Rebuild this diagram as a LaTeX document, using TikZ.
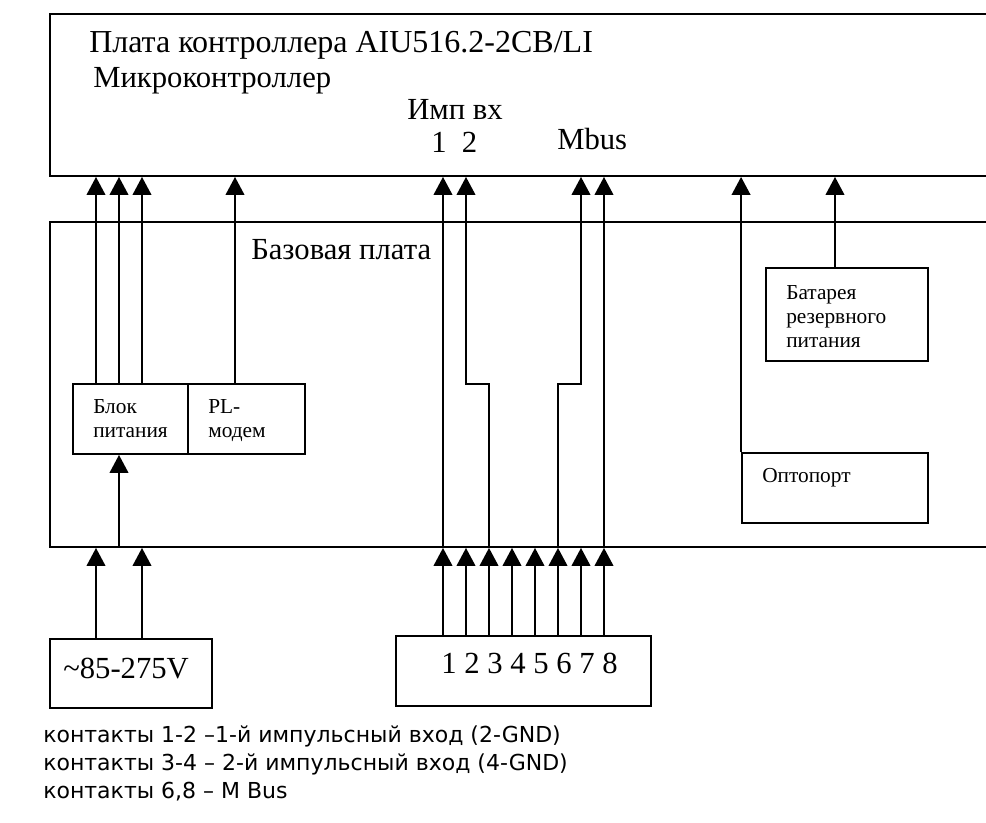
\documentclass[tikz,border=0pt]{standalone}
\usepackage{fontspec}
\setmainfont{Liberation Serif}
\newfontfamily\notefont{DejaVu Sans}
\usepackage{tikz}
\usetikzlibrary{arrows.meta,positioning}

\begin{document}
\begin{tikzpicture}[x=0.75pt, y=-0.75pt,
      box/.style={draw, line width=1.4pt, inner sep=0pt},
      big/.style={anchor=base west, inner sep=0pt, font=\fontsize{23}{27}\selectfont},
      small/.style={anchor=north west, inner sep=0pt, align=left, font=\fontsize{16}{18}\selectfont},
      note/.style={anchor=north west, inner sep=0pt, align=left, font=\notefont\fontsize{16.5}{21}\selectfont},
      arr/.style={-{Triangle[length=13.5pt, width=14pt]}, line width=1.4pt}
    ]
      \useasboundingbox (0,0) rectangle (986,823);
      \clip (0,0) rectangle (986,823);
      \node[box, minimum width=712.5pt, minimum height=121.5pt] (ctrl) at (525,95) {};
      \node[box, minimum width=712.5pt, minimum height=243.75pt] (base) at (525,384.5) {};
      \node[box, minimum width=86.25pt, minimum height=52.5pt] (psu) at (130.5,419) {};
      \node[box, minimum width=87.75pt, minimum height=52.5pt] (plm) at (246.5,419) {};
      \node[box, minimum width=121.5pt, minimum height=69.75pt] (bat) at (847,314.5) {};
      \node[box, minimum width=139.5pt, minimum height=52.5pt] (opto) at (835,488) {};
      \node[box, minimum width=121.5pt, minimum height=51.75pt] (mains) at (131,673.5) {};
      \node[box, minimum width=191.25pt, minimum height=52.5pt] (conn) at (523.5,671) {};

      \node[big, font=\fontsize{24}{28}\selectfont] (title) at (89,53) {Плата контроллера AIU516.2-2CB/LI};
      \node[big] (mcu) at (93,88) {Микроконтроллер};
      \node[big] (imp) at (407,120) {Имп вх};
      \node[big] (impnum) at (431,153) {1~~2};
      \node[big] (mbus) at (557,150) {Mbus};
      \node[big] (basetxt) at (251,260) {Базовая плата};
      \node[small] (psutxt) at (93,399) {Блок\\питания};
      \node[small] (plmtxt) at (208,399) {PL-\\модем};
      \node[small] (battxt) at (786,285) {Батарея\\резервного\\питания};
      \node[small, anchor=base west] (optotxt) at (762,483) {Оптопорт};
      \node[big] (mainstxt) at (63,678) {\textasciitilde85-275V};
      \node[big] (conntxt) at (441,673) {1 2 3 4 5 6 7 8};

      \foreach \x in {96,119,142}
        \draw[arr] (psu.north -| \x,0) -- (ctrl.south -| \x,0);
      \draw[arr] (plm.north -| 235,0) -- (ctrl.south -| 235,0);
      \draw[arr] (base.south -| 443,0) -- (ctrl.south -| 443,0);
      \draw[arr] (base.south -| 489,0) |- (466,384) -- (ctrl.south -| 466,0);
      \draw[arr] (base.south -| 558,0) |- (581,384) -- (ctrl.south -| 581,0);
      \draw[arr] (base.south -| 604,0) -- (ctrl.south -| 604,0);
      \draw[arr] (opto.north west) -- (ctrl.south -| opto.north west);
      \draw[arr] (bat.north -| 835,0) -- (ctrl.south -| 835,0);
      \foreach \x in {443,466,...,604}
        \draw[arr] (conn.north -| \x,0) -- (base.south -| \x,0);
      \foreach \x in {96,142}
        \draw[arr] (mains.north -| \x,0) -- (base.south -| \x,0);
      \draw[arr] (base.south -| 119,0) -- (psu.south -| 119,0);

      \node[note] (legend) at (43,726) {контакты 1-2 –1-й импульсный вход (2-GND)\\
        контакты 3-4 – 2-й импульсный вход (4-GND)\\
        контакты 6,8 – M Bus};
    \end{tikzpicture}
\end{document}
